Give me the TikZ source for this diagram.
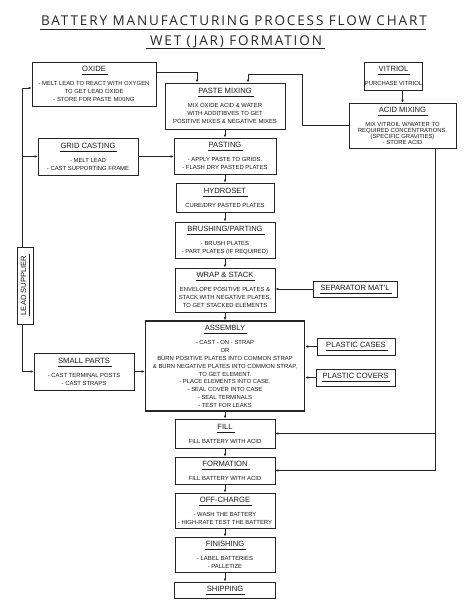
\documentclass[tikz,border=0pt]{standalone}
\usepackage{fontspec}
\setmainfont{Liberation Sans}
\newfontfamily\headfont[LetterSpace=14]{Open Sans}
\usetikzlibrary{arrows.meta, positioning, calc}

% underlined title inside a box
\newsavebox{\headbox}
\newcommand{\boxhead}[1]{\sbox{\headbox}{\fontsize{7.6}{9}\selectfont #1}%
  \makebox[0pt][l]{\hspace{-0.5pt}\rule[-3.2pt]{\dimexpr\wd\headbox+2.5pt\relax}{0.6pt}}\usebox{\headbox}}

\begin{document}
\begin{tikzpicture}[x=1pt, y=-1pt,
    box/.style={draw=black!85, line width=0.75pt, align=center, inner sep=0pt,
        font=\fontsize{5.9}{7.8}\selectfont, text=black!90},
    heading/.style={inner sep=0pt, font=\headfont\fontsize{13.5}{15}\selectfont, text=black!85},
    arr/.style={draw=black!85, line width=0.6pt, -{Latex[length=3pt,width=2.6pt]}}]

    \useasboundingbox (0,0) rectangle (474,613);

    % ============================================================
    % HEADING
    % ============================================================
    \node[heading, anchor=base] (head1) at (234,25.7) {BATTERY MANUFACTURING PROCESS FLOW CHART};
    \node[heading, anchor=base] (head2) at (236,45) {WET (JAR) FORMATION};
    \draw[line width=0.8pt, black!85] ([xshift=-1pt,yshift=-3.6pt]head1.base west) -- ([xshift=-1pt,yshift=-3.6pt]head1.base east);
    \draw[line width=0.8pt, black!85] ([xshift=-4pt,yshift=-3.8pt]head2.base west) -- ([xshift=3pt,yshift=-3.8pt]head2.base east);

    % ============================================================
    % LEAD SIDE
    % ============================================================
    \node[box, minimum width=124, minimum height=44] (oxide) at (94,84)
        {\boxhead{OXIDE}\\[6.2pt] - MELT LEAD TO REACT WITH OXYGEN\\ TO GET LEAD OXIDE\\ - STORE FOR PASTE MIXING};
    \node[box, minimum width=100, minimum height=37] (gridcast) at (88,156.5)
        {\boxhead{GRID CASTING}\\[6.2pt] - MELT LEAD\\ - CAST SUPPORTING FRAME};
    \node[box, minimum width=16, minimum height=77] (leadsup) at (25,285.5)
        {\rotatebox{90}{\boxhead{LEAD SUPPLIER}}};
    \node[box, minimum width=100, minimum height=37] (smallparts) at (84,371.5)
        {\boxhead{SMALL PARTS}\\[6.2pt] - CAST TERMINAL POSTS\\ - CAST STRAPS};

    % ============================================================
    % MAIN COLUMN
    % ============================================================
    \node[box, minimum width=120, minimum height=46] (pastemix) at (225,106)
        {\boxhead{PASTE MIXING}\\[6.2pt] MIX OXIDE ACID \& WATER\\ WITH ADDITIBVES TO GET\\ POSITIVE MIXES \& NEGATIVE MIXES};
    \node[box, minimum width=102, minimum height=36] (pasting) at (225,156)
        {\boxhead{PASTING}\\[6.2pt] - APPLY PASTE TO GRIDS.\\ - FLASH DRY PASTED PLATES};
    \node[box, minimum width=98, minimum height=29] (hydroset) at (225,197.5)
        {\boxhead{HYDROSET}\\[6.2pt] CURE/DRY PASTED PLATES};
    \node[box, minimum width=100, minimum height=36] (brushing) at (225,240)
        {\boxhead{BRUSHING/PARTING}\\[6.2pt] - BRUSH PLATES\\ - PART PLATES (IF REQUIRED)};
    \node[box, minimum width=100, minimum height=44] (wrap) at (225,290)
        {\boxhead{WRAP \& STACK}\\[6.2pt] ENVELOPE POSITIVE PLATES \&\\ STACK WITH NEGATIVE PLATES,\\ TO GET STACKED ELEMENTS};
    \node[box, line width=1.6pt, minimum width=159, minimum height=90] (assembly) at (225,366)
        {\boxhead{ASSEMBLY}\\[7pt] - CAST - ON - STRAP\\ OR\\ BURN POSITIVE PLATES INTO COMMON STRAP\\
         \& BURN NEGATIVE PLATES INTO COMMON STRAP,\\ TO GET ELEMENT.\\ - PLACE ELEMENTS INTO CASE.\\
         - SEAL COVER INTO CASE\\ - SEAL TERMINALS\\ - TEST FOR LEAKS};
    \node[box, minimum width=100, minimum height=29] (fill) at (225,433.5)
        {\boxhead{FILL}\\[6.2pt] FILL BATTERY WITH ACID};
    \node[box, minimum width=100, minimum height=27] (formation) at (225,470.5)
        {\boxhead{FORMATION}\\[6.2pt] FILL BATTERY WITH ACID};
    \node[box, minimum width=100, minimum height=35] (offcharge) at (225,510.5)
        {\boxhead{OFF-CHARGE}\\[6.2pt] - WASH THE BATTERY\\ - HIGH-RATE TEST THE BATTERY};
    \node[box, minimum width=100, minimum height=35] (finishing) at (225,554.5)
        {\boxhead{FINISHING}\\[6.2pt] - LABEL BATTERIES\\ - PALLETIZE};
    \node[box, minimum width=101, minimum height=16] (shipping) at (225,590)
        {\boxhead{SHIPPING}};

    % ============================================================
    % ACID SIDE AND SUPPLIES
    % ============================================================
    \node[box, minimum width=55, minimum height=28] (vitriol) at (393.5,76)
        {\boxhead{VITRIOL}\\[6.2pt] PURCHASE VITRIOL};
    \node[box, minimum width=107, minimum height=45] (acidmix) at (402.5,125.5)
        {\boxhead{ACID MIXING}\\[7pt] MIX VITROIL W/WATER TO\\[-2pt] REQUIRED CONCENTRATIONS.\\[-2pt]
         (SPECIFIC GRAVITIES)\\[-2pt] - STORE ACID};
    \node[box, minimum width=84, minimum height=16] (separator) at (355,289)
        {\boxhead{SEPARATOR MAT'L}};
    \node[box, minimum width=78, minimum height=17] (cases) at (356,346.5)
        {\boxhead{PLASTIC CASES}};
    \node[box, minimum width=79, minimum height=17] (covers) at (355.5,377.5)
        {\boxhead{PLASTIC COVERS}};

    % ============================================================
    % CONNECTORS
    % ============================================================
    \draw[arr] ([xshift=-3pt]leadsup.north) |- ([yshift=-4pt]oxide.west);
    \draw[arr] ([xshift=-3pt]leadsup.north) |- (gridcast.west);
    \draw[arr] ([xshift=-3pt]leadsup.south) |- (smallparts.west);
    \draw[arr] ([yshift=12pt]oxide.east) -| ([xshift=-28pt]pastemix.north);
    \draw[arr] (acidmix.west) -- (302,125.5) -- (302,74) -| ([xshift=23pt]pastemix.north);
    \draw[arr] (gridcast.east) -- (gridcast.east -| pasting.west);
    \draw[arr] (smallparts.east) -- (smallparts.east -| assembly.west);
    \draw[arr] (vitriol.south -| acidmix.north) -- (acidmix.north);
    \draw[arr] (separator.west) -- (separator.west -| wrap.east);
    \draw[arr] (cases.west) -- (cases.west -| assembly.east);
    \draw[arr] (covers.west) -- (covers.west -| assembly.east);
    \draw[arr] ([xshift=32.5pt]acidmix.south) |- (fill.east);
    \draw[arr] ([xshift=32.5pt]acidmix.south) |- (formation.east);

    \draw[arr] (pastemix.south) -- (pasting.north);
    \draw[arr] (pasting.south) -- (hydroset.north);
    \draw[arr] (hydroset.south) -- (brushing.north);
    \draw[arr] (brushing.south) -- (wrap.north);
    \draw[arr] (wrap.south) -- (assembly.north);
    \draw[arr] (assembly.south) -- (fill.north);
    \draw[arr] (fill.south) -- (formation.north);
    \draw[arr] (formation.south) -- (offcharge.north);
    \draw[arr] (offcharge.south) -- (finishing.north);
    \draw[arr] (finishing.south) -- (shipping.north);

\end{tikzpicture}
\end{document}
